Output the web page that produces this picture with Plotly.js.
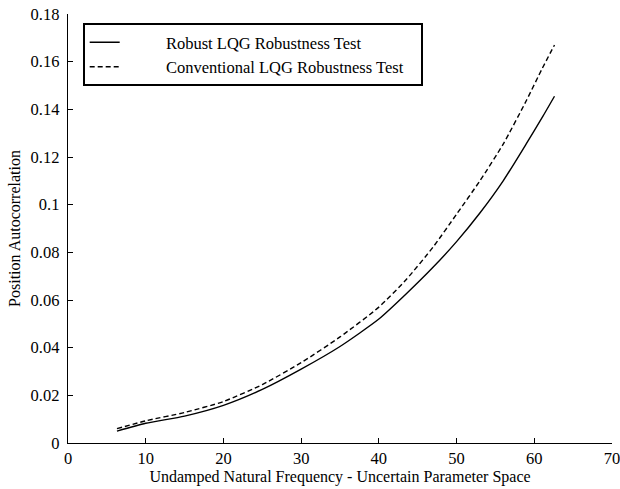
<!DOCTYPE html>
<html>
<head>
<meta charset="utf-8">
<script src="https://cdn.plot.ly/plotly-3.0.1.min.js"></script>
<style>html,body{margin:0;padding:0;background:#fff;}#chart{width:620px;height:489px;}</style>
</head>
<body>
<div id="chart"></div>
<script>
// Data
const freq = [6.3, 10, 15, 20, 25, 30, 35, 40, 43.5, 47, 50, 53, 56, 59, 61, 62.6];
const robustLQG = [0.005, 0.0083, 0.0113, 0.0158, 0.0225, 0.031, 0.0405, 0.052, 0.0625, 0.0738, 0.0845, 0.0965, 0.110, 0.1257, 0.1365, 0.1455];
const conventionalLQG = [0.006, 0.0093, 0.0128, 0.0174, 0.0245, 0.0337, 0.0445, 0.057, 0.0685, 0.0823, 0.096, 0.110, 0.1254, 0.1438, 0.157, 0.167];
const seriesNames = ['Robust LQG Robustness Test', 'Conventional LQG Robustness Test'];
const xTicks = [0, 10, 20, 30, 40, 50, 60, 70];
const yTicks = [0, 0.02, 0.04, 0.06, 0.08, 0.1, 0.12, 0.14, 0.16, 0.18];

const nb = n => '\u00a0'.repeat(n);

const traces = [
  {x: freq, y: robustLQG, name: nb(10) + seriesNames[0], mode: 'lines', type: 'scatter',
   line: {color: '#000', width: 1.4, shape: 'spline', smoothing: 0.6}},
  {x: freq, y: conventionalLQG, name: nb(10) + seriesNames[1] + nb(3), mode: 'lines', type: 'scatter',
   line: {color: '#000', width: 1.4, dash: '5px,3px', shape: 'spline', smoothing: 0.6}}
];

const fam = 'Liberation Serif, Times New Roman, serif';
const f = s => ({family: fam, size: s, color: '#000'});

const layout = {
  width: 620, height: 489,
  margin: {l: 68, r: 8, t: 14, b: 46},
  paper_bgcolor: '#fff', plot_bgcolor: '#fff',
  font: f(16),
  showlegend: true,
  legend: {
    x: 0.027, y: 0.979, xanchor: 'left', yanchor: 'top',
    bgcolor: '#fff', bordercolor: '#000', borderwidth: 2,
    font: f(16.5),
    tracegroupgap: 0
  },
  xaxis: {
    range: [0, 70], tickvals: xTicks, ticktext: xTicks.map(String),
    showgrid: false, zeroline: false, showline: true, linecolor: '#000', linewidth: 1.3,
    ticks: 'inside', ticklen: 5, tickwidth: 1, tickcolor: '#000',
    tickfont: f(16.5), ticklabeloverflow: 'allow',
    title: {text: 'Undamped Natural Frequency - Uncertain Parameter Space', font: f(16), standoff: 0}
  },
  yaxis: {
    range: [0, 0.18], tickvals: yTicks, ticktext: yTicks.map(v => String(+v.toFixed(2))),
    showgrid: false, zeroline: false, showline: true, linecolor: '#000', linewidth: 1.3,
    ticks: 'inside', ticklen: 5, tickwidth: 1, tickcolor: '#000',
    tickfont: f(16.5), ticklabeloverflow: 'allow',
    ticklabelstandoff: 4,
    title: {text: 'Position Autocorrelation', font: f(16), standoff: 6}
  }
};

Plotly.newPlot('chart', traces, layout, {staticPlot: true, displayModeBar: false});
</script>
</body>
</html>
